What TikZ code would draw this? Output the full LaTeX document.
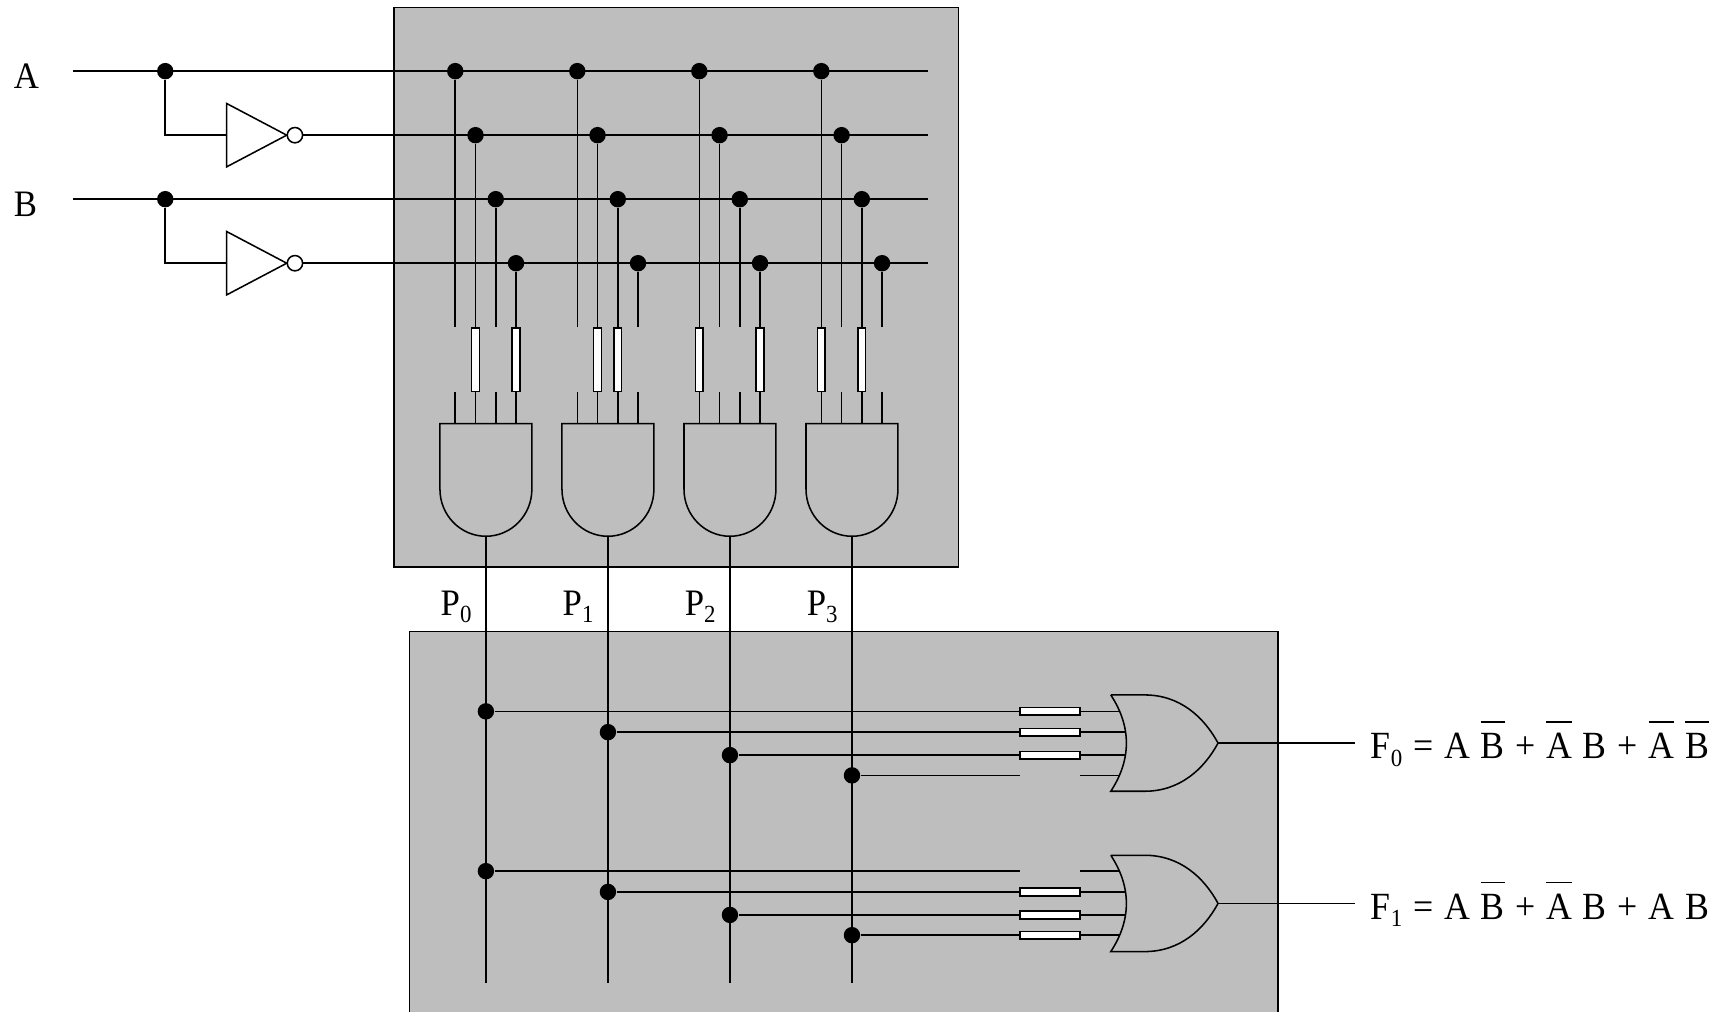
\documentclass[tikz,border=0pt]{standalone}
\usepackage{fontspec}
\setmainfont[FakeStretch=0.93]{Liberation Serif}
\usetikzlibrary{calc}
\definecolor{panel}{gray}{0.745}
\newcommand{\eqfont}{\fontsize{10}{12}\selectfont\spaceskip 2.8pt\relax}
\tikzstyle{every picture}=[x=0.01cm,y=-0.01cm,line width=0.4pt]
\tikzstyle{junction}=[circle,fill=black,inner sep=0pt,minimum size=0.15cm]
\tikzstyle{bubble}=[circle,draw,fill=white,inner sep=0pt,minimum size=0.14cm]
\tikzstyle{fusev}=[draw,fill=white,inner sep=0pt,minimum width=0.07cm,minimum height=0.58cm]
\tikzstyle{fuseh}=[draw,fill=white,inner sep=0pt,minimum width=0.55cm,minimum height=0.07cm]
\tikzstyle{label}=[anchor=base west,inner sep=0pt,font=\fontsize{9.7}{11}\selectfont]
\tikzstyle{equation}=[anchor=base west,inner sep=0pt,font=\eqfont]
\newcommand{\subs}[1]{\raisebox{-2pt}{\fontsize{6.4}{7}\selectfont #1}}
\newcommand{\ovl}[1]{$\overline{\mbox{\rule{0pt}{1.78ex}#1}}$}
\newcommand{\andgate}[2]{
  \draw (#2-42,387) -- (#2+42,387) -- (#2+42,447)
    .. controls (#2+42,471) and (#2+23,490) .. (#2,490)
    .. controls (#2-23,490) and (#2-42,471) .. (#2-42,447) -- cycle;
  \coordinate (#1) at (#2,490);
}
\newcommand{\orgate}[2]{
  \draw (1015,#2-44) -- (1046,#2-44)
    .. controls (1078,#2-44) and (1100,#2-24) .. (1113,#2)
    .. controls (1100,#2+24) and (1078,#2+44) .. (1046,#2+44)
    -- (1015,#2+44)
    .. controls (1034,#2+15) and (1034,#2-15) .. (1015,#2-44);
  \coordinate (#1) at (1113,#2);
}
\newcommand{\inverter}[2]{
  \draw[fill=white] (207,#2-29) -- (207,#2+29) -- (262,#2) -- cycle;
  \coordinate (#1i) at (207,#2);
  \node[bubble] (#1o) at (269.5,#2) {};
}

\begin{document}
\begin{tikzpicture}
\useasboundingbox (0,0) rectangle (1568,924.7);

% panels
\draw[fill=panel] (360,7) rectangle (876,518);
\draw[fill=panel] (374,940) -- (374,577) -- (1168,577) -- (1168,940);

% inputs
\node[label] (nameA) at (12,80.6) {A};
\node[label] (nameB) at (12,197.4) {B};
\coordinate (inA) at (67,65);
\coordinate (inB) at (67,182);
\coordinate (endA) at (848,65);
\coordinate (endB) at (848,182);
\coordinate (endNA) at (848,123.5);
\coordinate (endNB) at (848,240.5);
\node[junction] (ja) at (151,65) {};
\node[junction] (jb) at (151,182) {};
\inverter{na}{123.5}
\inverter{nb}{240.5}
\draw (inA) -- (endA);
\draw (inB) -- (endB);
\draw (ja) |- (nai);
\draw (jb) |- (nbi);
\draw (nao) -- (endNA);
\draw (nbo) -- (endNB);

% product terms
\foreach \g/\xx in {0/416,1/527.5,2/639,3/750.5} {
  \foreach \r/\dx/\yy in {0/0/65,1/18.5/123.5,2/37/182,3/55.5/240.5} {
    \node[junction] (d\g\r) at (\xx+\dx,\yy) {};
    \coordinate (t\g\r) at (\xx+\dx,299);
    \coordinate (b\g\r) at (\xx+\dx,358);
    \coordinate (p\g\r) at (\xx+\dx,387);
    \draw (d\g\r) -- (t\g\r);
    \draw (b\g\r) -- (p\g\r);
  }
}
\foreach \g/\r in {0/1,0/3,1/1,1/2,2/0,2/3,3/0,3/2} {
  \node[fusev] (f\g\r) at ($(t\g\r)!0.5!(b\g\r)$) {};
}

\andgate{a0}{444}
\andgate{a1}{555.5}
\andgate{a2}{667}
\andgate{a3}{778.5}

% product lines
\foreach \i/\xx in {0/402,1/513.5,2/625,3/736.5} {
  \node[label] (lp\i) at (\xx,562) {P\subs{\i}};
  \coordinate (q\i) at (\xx+42,898);
  \draw (a\i) -- (q\i);
}

% sum terms
\orgate{o0}{679}
\orgate{o1}{825.5}
\foreach \s/\p/\yy/\xb in {0/0/650/1023,1/1/669/1028,2/2/690/1028,3/3/708.5/1023,4/0/796/1023,5/1/815/1028,6/2/836/1028,7/3/854.5/1023} {
  \node[junction] (s\s) at (a\p |- 0,\yy) {};
  \coordinate (w\s) at (932,\yy);
  \coordinate (e\s) at (987,\yy);
  \coordinate (k\s) at (\xb,\yy);
  \draw (s\s) -- (w\s);
  \draw (e\s) -- (k\s);
}
\foreach \s in {0,1,2,5,6,7} {
  \node[fuseh] (h\s) at ($(w\s)!0.5!(e\s)$) {};
}

% outputs
\coordinate (f0) at (1238,679);
\coordinate (f1) at (1238,825.5);
\draw (o0) -- (f0);
\draw (o1) -- (f1);
\node[equation] (ef0) at (1252,693.5) {F\subs{0} = A \ovl{B} + \ovl{A} B + \ovl{A} \ovl{B}};
\node[equation] (ef1) at (1252,840) {F\subs{1} = A \ovl{B} + \ovl{A} B + A B};
\end{tikzpicture}
\end{document}
